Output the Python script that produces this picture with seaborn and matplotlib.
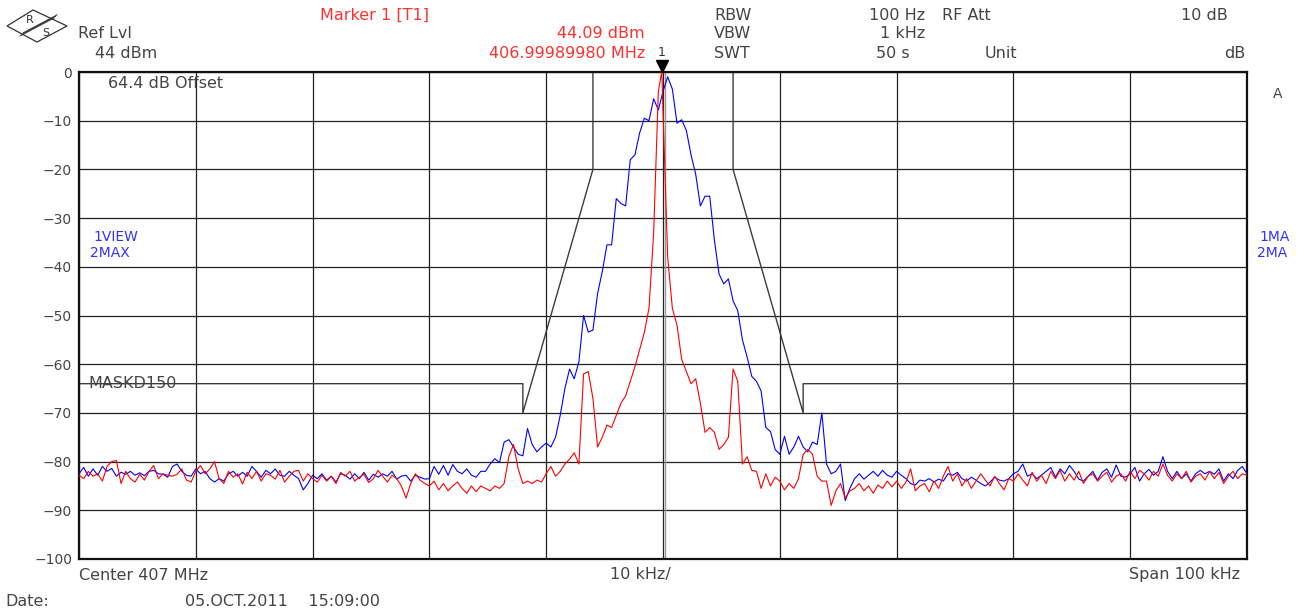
import numpy as np
import pandas as pd
import matplotlib
matplotlib.use("Agg")
import matplotlib.pyplot as plt
import matplotlib.transforms as mtransforms
from matplotlib.patches import Polygon
import seaborn as sns

# ---- instrument settings ----
CENTER_MHZ = 407.0
SPAN_KHZ = 100.0
REF_LEVEL_DBM = 44.0
MARKER_FREQ_MHZ = 406.99989980
MARKER_LEVEL_DBM = 44.09
DISPLAY_LINE_KHZ = 0.2

y_ticks = list(range(0, -101, -10))
y_tick_labels = ["0", "−10", "−20", "−30", "−40", "−50", "−60", "−70", "−80", "−90", "−100"]
x_ticks = list(range(-50, 51, 10))

# limit line MASKD150 (kHz offset from centre, dB)
mask_freq_khz = [-50, -12, -12, -6, -6, 6, 6, 12, 12, 50]
mask_level_db = [-64, -64, -70, -20, 0, 0, -20, -70, -64, -64]

# max-hold trace (blue), 251 sweep points across the span
trace_blue_db = [
    -82.5, -81.2, -83.0, -81.5, -82.8, -81.0, -82.0, -81.4, -83.0, -82.2,
    -82.6, -82.0, -82.8, -82.3, -82.9, -82.0, -81.8, -82.5, -82.6, -83.2,
    -81.0, -80.5, -82.0, -82.8, -83.0, -81.5, -82.5, -82.0, -83.5, -84.2,
    -83.5, -84.0, -82.5, -82.0, -83.0, -82.2, -83.0, -81.0, -82.0, -83.2,
    -81.8, -82.5, -81.5, -82.8, -83.0, -82.0, -82.8, -83.5, -85.8, -84.5,
    -82.8, -83.5, -82.5, -83.8, -83.0, -84.2, -82.5, -82.8, -83.6, -82.5,
    -83.5, -82.2, -83.8, -82.6, -83.2, -82.5, -83.0, -82.0, -83.6, -83.0,
    -82.8, -84.0, -82.8, -83.2, -83.6, -83.5, -81.0, -82.6, -80.8, -82.8,
    -80.6, -82.0, -82.5, -81.5, -82.8, -83.2, -82.0, -82.0, -80.5, -79.4,
    -80.2, -76.0, -75.5, -77.0, -78.5, -78.8, -73.2, -76.5, -78.0, -77.0,
    -76.2, -77.0, -75.0, -70.5, -65.0, -61.0, -63.0, -59.5, -50.0, -53.4,
    -53.0, -45.5, -41.0, -35.5, -35.5, -26.0, -27.0, -27.5, -18.0, -17.0,
    -12.5, -9.5, -10.0, -5.5, -7.8, -4.0, -1.0, -3.5, -10.5, -9.8,
    -12.0, -17.0, -21.0, -27.5, -25.5, -25.5, -34.5, -41.5, -43.5, -42.5,
    -47.0, -49.0, -55.0, -58.5, -62.5, -63.5, -65.5, -73.0, -73.8, -77.5,
    -78.5, -74.8, -78.5, -77.0, -74.8, -77.0, -78.0, -76.0, -76.5, -70.0,
    -80.5, -82.5, -82.0, -80.5, -88.0, -85.5, -83.5, -82.5, -83.6, -82.8,
    -82.0, -83.0, -81.8, -82.8, -83.2, -82.0, -82.8, -83.5, -84.5, -84.8,
    -83.8, -84.0, -83.5, -84.2, -83.6, -84.0, -82.5, -82.8, -82.2, -83.5,
    -84.0, -83.2, -83.8, -84.5, -85.0, -84.2, -83.2, -83.8, -84.0, -83.5,
    -82.5, -82.0, -80.5, -83.0, -82.5, -83.5, -82.8, -82.0, -81.2, -83.2,
    -81.5, -82.5, -80.8, -82.0, -83.6, -84.0, -83.0, -82.0, -83.8, -82.2,
    -81.5, -83.2, -80.7, -83.0, -83.2, -82.5, -81.2, -84.0, -82.5, -81.6,
    -82.8, -82.0, -79.0, -82.0, -83.5, -82.0, -83.5, -82.5, -84.0, -82.5,
    -81.8, -82.5, -82.0, -82.6, -81.5, -84.0, -82.5, -83.5, -81.8, -81.0,
    -82.5,
]

# view trace (red), same sweep points
trace_red_db = [
    -82.8, -83.5, -82.0, -83.0, -82.5, -84.0, -81.0, -80.0, -79.8, -84.5,
    -82.0, -83.5, -84.2, -82.6, -83.8, -82.0, -80.8, -83.5, -82.5, -82.8,
    -83.0, -82.6, -81.5, -83.8, -84.2, -82.0, -80.8, -82.5, -81.5, -80.0,
    -83.5, -84.5, -82.0, -83.2, -82.5, -84.6, -82.2, -83.5, -82.0, -84.0,
    -82.5, -82.8, -83.6, -81.8, -84.2, -83.0, -82.0, -81.8, -84.0, -82.5,
    -83.5, -84.2, -82.8, -84.0, -83.0, -84.5, -82.2, -83.0, -82.0, -84.0,
    -83.2, -82.6, -84.3, -83.5, -81.8, -83.0, -84.2, -82.8, -83.5, -85.0,
    -87.5, -84.5, -82.5, -83.8, -84.5, -85.0, -84.0, -85.8, -84.5, -86.0,
    -85.0, -84.2, -85.5, -86.5, -85.0, -86.2, -85.0, -85.5, -86.0, -85.0,
    -85.5, -84.5, -79.0, -76.5, -81.5, -84.5, -84.0, -84.5, -83.8, -84.2,
    -82.5, -81.0, -83.0, -82.0, -80.5, -79.5, -78.2, -80.5, -62.0, -61.5,
    -67.0, -77.0, -75.0, -72.5, -73.0, -70.5, -68.0, -66.5, -63.5, -60.5,
    -57.0, -53.5, -48.5, -33.0, -4.0, -8.0, -38.0, -48.5, -52.0, -59.0,
    -61.5, -64.0, -63.0, -68.0, -74.0, -73.0, -74.0, -77.5, -76.5, -75.0,
    -61.0, -63.5, -80.5, -79.0, -81.8, -82.0, -85.5, -82.5, -85.0, -83.2,
    -84.0, -85.8, -84.5, -85.5, -83.5, -78.5, -77.5, -78.5, -83.0, -84.0,
    -84.0, -89.0, -86.0, -84.5, -87.5, -86.0, -85.5, -84.5, -86.0, -85.0,
    -86.5, -84.8, -85.5, -84.0, -85.2, -84.0, -85.5, -84.2, -81.5, -86.0,
    -85.0, -84.5, -86.2, -84.0, -85.5, -83.0, -81.0, -84.0, -82.5, -85.0,
    -83.5, -85.5, -84.0, -82.5, -83.8, -85.0, -83.0, -84.5, -85.8, -83.5,
    -84.0, -82.5, -83.8, -85.0, -82.2, -84.0, -82.8, -84.5, -82.0, -83.5,
    -81.8, -84.0, -82.5, -83.8, -82.0, -84.5, -83.0, -82.5, -84.0, -83.0,
    -82.2, -84.2, -83.0, -82.5, -84.0, -82.0, -83.5, -81.8, -82.5, -83.8,
    -82.0, -83.0, -80.5, -82.8, -84.0, -82.5, -83.5, -82.0, -84.2, -83.0,
    -82.5, -83.8, -82.0, -83.5, -82.2, -84.5, -83.0, -82.0, -83.5, -82.5,
    -82.8,
]

# ---- build the sweep table ----
sweep_khz = np.linspace(-SPAN_KHZ / 2, SPAN_KHZ / 2, len(trace_blue_db))
marker_khz = (MARKER_FREQ_MHZ - CENTER_MHZ) * 1000.0
marker_db = MARKER_LEVEL_DBM - REF_LEVEL_DBM

red_freq = np.array(sweep_khz)
red_level = np.array(trace_red_db)
pos = np.searchsorted(red_freq, marker_khz)
red_freq = np.insert(red_freq, pos, marker_khz)
red_level = np.insert(red_level, pos, marker_db)

df = pd.concat([
    pd.DataFrame({"freq": sweep_khz, "level": trace_blue_db, "trace": "2MAX"}),
    pd.DataFrame({"freq": red_freq, "level": red_level, "trace": "1VIEW"}),
], ignore_index=True)

# ---- figure ----
sns.set_style("white")
plt.rcParams["font.family"] = ["DejaVu Sans"]

W, H = 1311, 611
fig = plt.figure(figsize=(W / 100, H / 100), dpi=100)
fig.patch.set_facecolor("white")
ax = fig.add_axes([79 / W, 1 - 559 / H, (1247 - 79) / W, (559 - 72) / H])


def fx(x):
    return x / W


def fy(y):
    return 1 - y / H


ax.set_xlim(-SPAN_KHZ / 2, SPAN_KHZ / 2)
ax.set_ylim(-100, 0)
ax.set_xticks(x_ticks)
ax.set_yticks(y_ticks)
ax.set_xticklabels([])
ax.set_yticklabels(y_tick_labels, fontsize=10, color="#444444")
ax.tick_params(length=0, pad=5)
ax.grid(True, color="#222222", lw=0.9)
ax.set_axisbelow(True)
for s in ax.spines.values():
    s.set_color("#111111")
    s.set_linewidth(1.6)

ax.axvline(DISPLAY_LINE_KHZ, color="#9a9a9a", lw=1.0, zorder=1)

# limit line
ax.plot(mask_freq_khz, mask_level_db, color="#3c3c3c", lw=1.0, zorder=2)

# traces
sns.lineplot(data=df, x="freq", y="level", hue="trace",
             palette={"2MAX": "#0000ff", "1VIEW": "#ff0000"},
             hue_order=["2MAX", "1VIEW"], estimator=None, sort=False,
             lw=0.8, legend=False, ax=ax, zorder=3)
ax.set_xlabel("")
ax.set_ylabel("")

# marker 1
tri = mtransforms.offset_copy(ax.transData, fig=fig, x=0, y=6, units="dots")
ax.plot([marker_khz], [0], marker="v", ms=8, color="black", transform=tri, clip_on=False, zorder=5)
ax.annotate("1", xy=(marker_khz, 0), xytext=(0, 14), textcoords="offset points",
            ha="center", va="center", fontsize=9, color="#333333", annotation_clip=False)

# ---- annotation text ----
grey = "#444444"
red = "#ff3030"
blue = "#3030ff"
fs = 11.5

fig.text(fx(78), fy(34), "Ref Lvl", fontsize=fs, color=grey, va="center")
fig.text(fx(95), fy(53), "44 dBm", fontsize=fs, color=grey, va="center")

fig.text(fx(320), fy(15), "Marker 1 [T1]", fontsize=fs, color=red, va="center")
fig.text(fx(645), fy(34), "44.09 dBm", fontsize=fs, color=red, va="center", ha="right")
fig.text(fx(645), fy(53), "406.99989980 MHz", fontsize=fs, color=red, va="center", ha="right")

fig.text(fx(714), fy(15), "RBW", fontsize=fs, color=grey, va="center")
fig.text(fx(714), fy(34), "VBW", fontsize=fs, color=grey, va="center")
fig.text(fx(714), fy(53), "SWT", fontsize=fs, color=grey, va="center")
fig.text(fx(925), fy(15), "100 Hz", fontsize=fs, color=grey, va="center", ha="right")
fig.text(fx(925), fy(34), "1 kHz", fontsize=fs, color=grey, va="center", ha="right")
fig.text(fx(910), fy(53), "50 s", fontsize=fs, color=grey, va="center", ha="right")
fig.text(fx(942), fy(15), "RF Att", fontsize=fs, color=grey, va="center")
fig.text(fx(985), fy(53), "Unit", fontsize=fs, color=grey, va="center")
fig.text(fx(1228), fy(15), "10 dB", fontsize=fs, color=grey, va="center", ha="right")
fig.text(fx(1245), fy(53), "dB", fontsize=fs, color=grey, va="center", ha="right")

fig.text(fx(108), fy(83), "64.4 dB Offset", fontsize=fs, color=grey, va="center")
fig.text(fx(93), fy(237), "1VIEW", fontsize=10, color=blue, va="center")
fig.text(fx(90), fy(253), "2MAX", fontsize=10, color=blue, va="center")
fig.text(fx(88), fy(383), "MASKD150", fontsize=fs, color=grey, va="center")

fig.text(fx(1278), fy(94), "A", fontsize=10, color=grey, va="center", ha="center")
fig.text(fx(1259), fy(237), "1MA", fontsize=10, color=blue, va="center")
fig.text(fx(1257), fy(253), "2MA", fontsize=10, color=blue, va="center")

fig.text(fx(79), fy(575), "Center 407 MHz", fontsize=fs, color=grey, va="center")
fig.text(fx(610), fy(575), "10 kHz/", fontsize=fs, color=grey, va="center")
fig.text(fx(1240), fy(575), "Span 100 kHz", fontsize=fs, color=grey, va="center", ha="right")
fig.text(fx(5), fy(601), "Date:", fontsize=fs, color=grey, va="center")
fig.text(fx(185), fy(601), "05.OCT.2011    15:09:00", fontsize=fs, color=grey, va="center")

# R&S logo
logo = Polygon([(fx(7), fy(26)), (fx(33), fy(10)), (fx(67), fy(26)), (fx(37), fy(42))],
               closed=True, fill=False, edgecolor="#333333", lw=0.9, transform=fig.transFigure)
fig.add_artist(logo)
for k in range(3):
    off = k * 1.6
    fig.add_artist(plt.Line2D([fx(20 + off), fx(54 + off)], [fy(36 - off), fy(18 - off)],
                              color="#333333", lw=0.7, transform=fig.transFigure))
fig.text(fx(30), fy(20), "R", fontsize=8, color="#333333", ha="center", va="center")
fig.text(fx(46), fy(33), "S", fontsize=8, color="#333333", ha="center", va="center")

fig.savefig("out.png", dpi=100, facecolor="white")
